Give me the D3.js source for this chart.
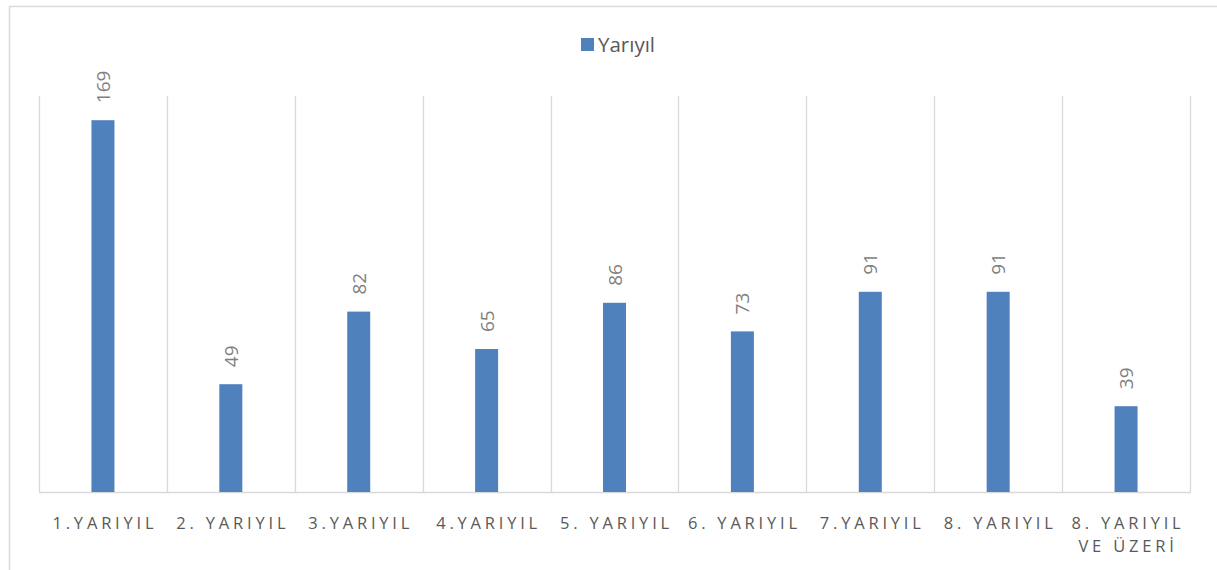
<!DOCTYPE html>
<html>
<head>
<meta charset="utf-8">
<script src="https://cdn.jsdelivr.net/npm/d3@7"></script>
<style>
  body { margin: 0; background: #fff; }
  svg { display: block; }
</style>
</head>
<body>
<svg id="chart" width="1217" height="570"></svg>
<script>
'use strict';

// data
var categories = ['1.YARIYIL', '2. YARIYIL', '3.YARIYIL', '4.YARIYIL', '5. YARIYIL',
  '6. YARIYIL', '7.YARIYIL', '8. YARIYIL', '8. YARIYIL VE ÜZERİ'];
var categoryLines = [['1.YARIYIL'], ['2. YARIYIL'], ['3.YARIYIL'], ['4.YARIYIL'], ['5. YARIYIL'],
  ['6. YARIYIL'], ['7.YARIYIL'], ['8. YARIYIL'], ['8. YARIYIL', 'VE ÜZERİ']];
var values = [169, 49, 82, 65, 86, 73, 91, 91, 39];
var seriesName = 'Yarıyıl';
var yMax = 180;

(function() {
  var svg = d3.select('#chart');
  var font = '"Open Sans", "Liberation Sans", sans-serif';

  // chart border
  svg.append('rect')
    .attr('x', 9.5).attr('y', 6.5)
    .attr('width', 1300).attr('height', 700)
    .attr('fill', 'none')
    .attr('stroke', '#d9d9d9')
    .attr('stroke-width', 1.5);

  var plotLeft = 39, plotRight = 1190, plotTop = 96, plotBottom = 492;

  var x = d3.scaleBand().domain(categories).range([plotLeft, plotRight]).padding(0);
  var y = d3.scaleLinear().domain([0, yMax]).range([plotBottom, plotTop]);

  // vertical gridlines at category boundaries
  var bounds = categories.map(function(c) { return x(c); }).concat([plotRight]);
  svg.append('g').selectAll('line')
    .data(bounds)
    .enter().append('line')
    .attr('x1', function(d) { return Math.round(d) + 0.5; })
    .attr('x2', function(d) { return Math.round(d) + 0.5; })
    .attr('y1', plotTop).attr('y2', plotBottom)
    .attr('stroke', '#d9d9d9')
    .attr('stroke-width', 1.3);

  // baseline
  svg.append('line')
    .attr('x1', plotLeft).attr('x2', plotRight + 1)
    .attr('y1', plotBottom + 0.5).attr('y2', plotBottom + 0.5)
    .attr('stroke', '#d9d9d9')
    .attr('stroke-width', 1.5);

  var barW = 23;

  svg.append('g').selectAll('rect')
    .data(values)
    .enter().append('rect')
    .attr('x', function(d, i) { return x(categories[i]) + x.bandwidth() / 2 - barW / 2; })
    .attr('y', function(d) { return y(d); })
    .attr('width', barW)
    .attr('height', function(d) { return plotBottom - y(d); })
    .attr('fill', '#4f81bd');

  // value labels, rotated
  svg.append('g').selectAll('text')
    .data(values)
    .enter().append('text')
    .attr('transform', function(d, i) {
      var cx = x(categories[i]) + x.bandwidth() / 2 + 7;
      return 'translate(' + cx + ',' + (y(d) - 17) + ') rotate(-90)';
    })
    .attr('font-family', font)
    .attr('font-size', 19)
    .attr('fill', '#7f7f7f')
    .text(function(d) { return d; });

  // category labels
  var lab = svg.append('g').selectAll('text')
    .data(categoryLines)
    .enter().append('text')
    .attr('y', 529)
    .attr('text-anchor', 'middle')
    .attr('font-family', font)
    .attr('font-size', 16.5)
    .attr('letter-spacing', 3.8)
    .attr('fill', '#595959');

  lab.each(function(lines, i) {
    var t = d3.select(this);
    var cx = x(categories[i]) + x.bandwidth() / 2 + 2;
    lines.forEach(function(line, j) {
      t.append('tspan')
        .attr('x', cx)
        .attr('dy', j === 0 ? 0 : 23)
        .text(line);
    });
  });

  // legend
  svg.append('rect')
    .attr('x', 581).attr('y', 38)
    .attr('width', 13).attr('height', 13)
    .attr('fill', '#4f81bd');
  svg.append('text')
    .attr('x', 598).attr('y', 52)
    .attr('font-family', font)
    .attr('font-size', 20.5)
    .attr('fill', '#595959')
    .text(seriesName);
})();
</script>
</body>
</html>
